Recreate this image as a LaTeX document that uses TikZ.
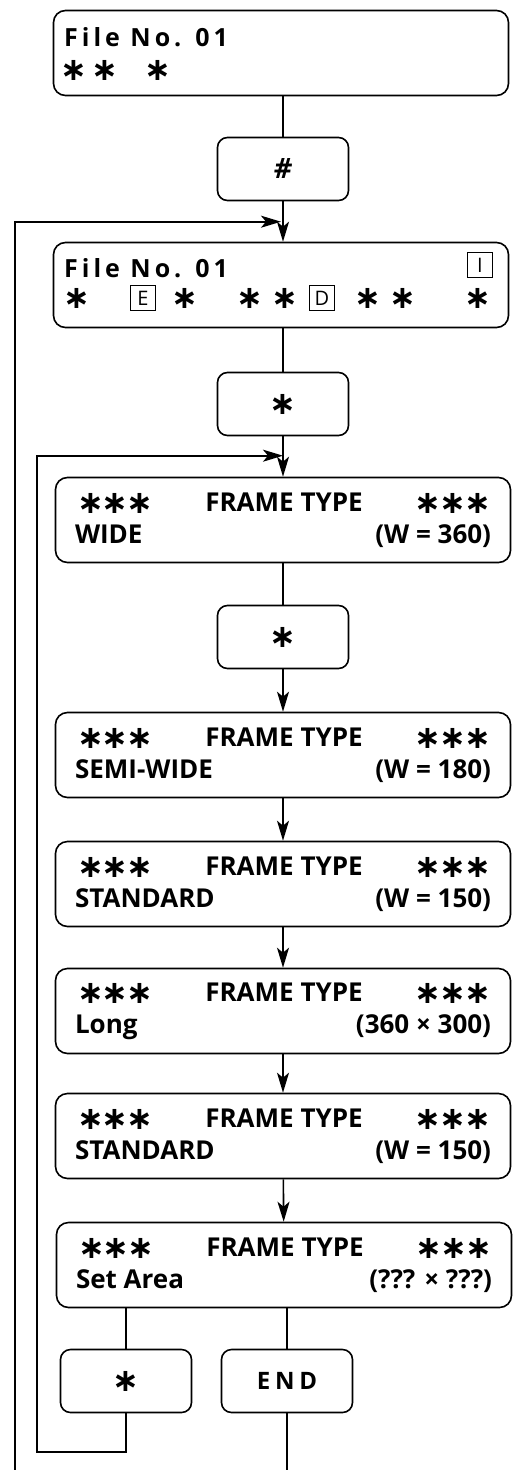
\documentclass[tikz,border=0pt]{standalone}
\usepackage{fontspec}
\setmainfont{Open Sans}
\newfontfamily\symfont{DejaVu Sans}
\usetikzlibrary{arrows.meta,positioning,calc}

\newcommand{\bigst}{{\fontsize{32}{32}\symfont\bfseries ∗}}
\newcommand{\st}{\raisebox{-0.1em}{\smash{\bigst}}}
\newcommand{\ftype}[2]{\makebox[416pt]{\hspace{2pt}\st\kern-2pt\st\kern-2pt\st\hfill FRAME TYPE\hfill\st\kern-2pt\st\kern-2pt\st}\\\makebox[416pt]{#1\hfill #2}}

\tikzset{
  panel/.style={draw,line width=1.6pt,rounded corners=12pt,minimum width=455pt,minimum height=85pt,inner sep=0pt,font=\fontsize{26}{32}\selectfont\bfseries,align=center},
  keybox/.style={draw,line width=1.6pt,rounded corners=10pt,minimum width=131pt,minimum height=63pt,inner sep=0pt,font=\fontsize{24}{24}\selectfont\bfseries},
  lcdline/.style={anchor=base west,inner sep=0pt,font=\fontsize{25}{25}\selectfont\bfseries\addfontfeature{LetterSpace=16}},
  keycap/.style={draw,line width=1.6pt,minimum width=25pt,minimum height=25pt,inner sep=0pt,font=\fontsize{20}{20}\selectfont},
  glyph/.style={inner sep=0pt},
  link/.style={line width=1.6pt},
  flow/.style={line width=1.6pt,-{Stealth[length=20pt,width=12pt,inset=5pt]}}
}

\begin{document}
\begin{tikzpicture}[x=1pt,y=-1pt]
    \useasboundingbox[fill=white] (0,0) rectangle (512,1470);
    % file display before and after #
    \node[panel] (file) at (281,53) {};
    \node[lcdline] (filename) at (64,46) {File No. 01};
    \foreach \x [count=\i] in {74,105,158}
        \node[glyph] (fs\i) at (\x,70) {\bigst};
    \node[keybox] (hash) at (283,169) {\fontsize{28}{28}\selectfont\itshape\#};
    \node[panel] (fileb) at (281,285) {};
    \node[lcdline] (filenameb) at (64,277) {File No. 01};
    \node[keycap] (keyi) at (480,265) {I};
    \foreach \x [count=\i] in {77,185,250,285,368,403,478}
        \node[glyph] (bs\i) at (\x,298) {\bigst};
    \node[keycap] (keye) at (143,298) {E};
    \node[keycap] (keyd) at (322,298) {D};
    \node[keybox] (asta) at (283,404) {\bigst};
    % frame types
    \node[panel] (wide) at (283,520) {\ftype{WIDE}{(W = 360)}};
    \node[keybox] (astb) at (283,637) {\bigst};
    \node[panel] (semi) at (283,755) {\ftype{SEMI-WIDE}{(W = 180)}};
    \node[panel] (std) at (283,884) {\ftype{STANDARD}{(W = 150)}};
    \node[panel] (long) at (283,1011) {\ftype{Long}{(360 × 300)}};
    \node[panel] (stdb) at (283,1136) {\ftype{STANDARD}{(W = 150)}};
    \node[panel] (area) at (284,1265) {\ftype{Set Area}{(??? × ???)}};
    \node[keybox] (astc) at (126,1381) {\bigst};
    \node[keybox] (done) at (287,1381) {\addfontfeature{LetterSpace=20}END};
    \coordinate (outerfoot) at (15,1470);
    \coordinate (innerfoot) at (37,1452);
    % connectors
    \draw[link] (file.south -| hash.north) -- (hash.north);
    \draw[flow] (hash) -- (fileb.north -| hash.south);
    \draw[flow] (outerfoot) |- ($(fileb.north)+(0,-20)$);
    \draw[link] (fileb.south -| asta.north) -- (asta.north);
    \draw[flow] (asta) -- (wide.north -| asta.south);
    \draw[flow] (astc.south) |- (innerfoot) |- ($(wide.north)+(0,-21)$);
    \draw[link] (wide) -- (astb);
    \draw[flow] (astb) -- (semi);
    \draw[flow] (semi) -- (std);
    \draw[flow] (std) -- (long);
    \draw[flow] (long) -- (stdb);
    \draw[flow] (stdb) -- (area);
    \draw[link] (area.south -| astc.north) -- (astc.north);
    \draw[link] (area.south -| done.north) -- (done.north);
    \draw[link] (done.south) -- (done.south |- outerfoot);
\end{tikzpicture}
\end{document}
